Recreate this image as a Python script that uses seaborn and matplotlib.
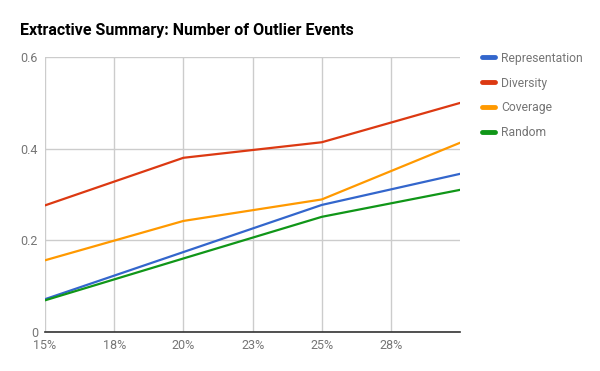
import numpy as np
import pandas as pd
import matplotlib
matplotlib.use('Agg')
import matplotlib.pyplot as plt
import seaborn as sns

# data
pct = [15, 20, 25, 30]
representation = [0.071, 0.174, 0.277, 0.345]
diversity = [0.276, 0.380, 0.414, 0.500]
coverage = [0.156, 0.242, 0.289, 0.413]
random_sel = [0.0685, 0.160, 0.251, 0.310]

series_names = ['Representation', 'Diversity', 'Coverage', 'Random']
colors = ['#3366cc', '#dc3912', '#ff9900', '#109618']

xtick_pos = [15, 17.5, 20, 22.5, 25, 27.5]
xtick_labels = ['15%', '18%', '20%', '23%', '25%', '28%']
ytick_pos = [0, 0.2, 0.4, 0.6]
ytick_labels = ['0', '0.2', '0.4', '0.6']

df = pd.DataFrame({
    'pct': pct * 4,
    'value': representation + diversity + coverage + random_sel,
    'method': np.repeat(series_names, len(pct)),
})

sns.set_style('white')
plt.rcParams['font.family'] = ['Roboto', 'DejaVu Sans']

fig = plt.figure(figsize=(6, 3.71), dpi=100)
ax = fig.add_axes([0.075, 0.106, 0.692, 0.740])

sns.lineplot(data=df, x='pct', y='value', hue='method', hue_order=series_names,
             palette=colors, linewidth=1.6, ax=ax, legend=False)

ax.set_xlim(15, 30)
ax.set_ylim(0, 0.6)
ax.set_xticks(xtick_pos)
ax.set_xticklabels(xtick_labels)
ax.set_yticks(ytick_pos)
ax.set_yticklabels(ytick_labels)
ax.grid(True, color='#cccccc', linewidth=1)
ax.set_axisbelow(True)
ax.tick_params(axis='both', length=0, labelsize=9, labelcolor='#757575')
ax.tick_params(axis='x', pad=5)
ax.tick_params(axis='y', pad=5)
ax.set_xlabel('')
ax.set_ylabel('')
for s in ['top', 'right', 'left']:
    ax.spines[s].set_visible(False)
ax.spines['bottom'].set_color('#333333')
ax.spines['bottom'].set_linewidth(1.2)

fig.text(0.033, 0.918, 'Extractive Summary: Number of Outlier Events',
         fontsize=11.5, fontweight='bold', color='#000000', va='center')

handles = [plt.Line2D([], [], color=c, linewidth=3.5) for c in colors]
leg = fig.legend(handles, series_names, loc='upper left', bbox_to_anchor=(0.786, 0.89),
                 frameon=False, fontsize=8.7, handlelength=1.0, handletextpad=0.55,
                 labelspacing=0.98)
for t in leg.get_texts():
    t.set_color('#757575')

fig.savefig('out.png', dpi=100)
